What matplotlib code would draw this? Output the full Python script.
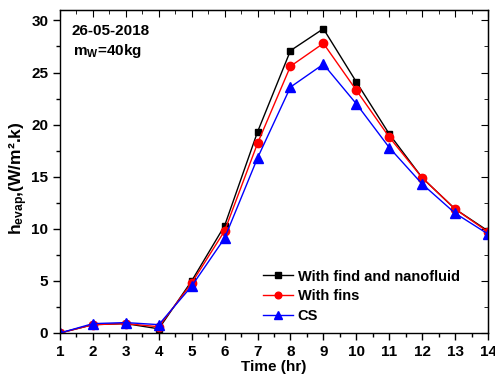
import matplotlib
matplotlib.use("Agg")
import matplotlib.pyplot as plt
from matplotlib.ticker import MultipleLocator

# data
hours = [1, 2, 3, 4, 5, 6, 7, 8, 9, 10, 11, 12, 13, 14]
fins_nano = [0.0, 0.8, 0.9, 0.4, 5.0, 10.3, 19.3, 27.1, 29.2, 24.1, 19.1, 14.9, 11.9, 9.8]
fins = [0.0, 0.8, 0.9, 0.6, 4.8, 9.8, 18.2, 25.6, 27.8, 23.3, 18.8, 14.9, 11.9, 9.7]
cs = [0.0, 0.9, 1.0, 0.8, 4.5, 9.1, 16.8, 23.6, 25.8, 22.0, 17.8, 14.3, 11.5, 9.5]

plt.rcParams["font.family"] = "Liberation Sans"
plt.rcParams["font.weight"] = "bold"
plt.rcParams["mathtext.fontset"] = "custom"
plt.rcParams["mathtext.rm"] = "Liberation Sans:bold"
plt.rcParams["mathtext.it"] = "Liberation Sans:bold"
plt.rcParams["mathtext.bf"] = "Liberation Sans:bold"

fig = plt.figure(figsize=(4.95, 3.76), dpi=100)
ax = fig.add_axes([60 / 495, 1 - 333 / 376, 428 / 495, 323 / 376])

ax.plot(hours, fins_nano, color="black", marker="s", markersize=5, linewidth=1,
        label="With find and nanofluid")
ax.plot(hours, fins, color="red", marker="o", markersize=6, linewidth=1,
        label="With fins")
ax.plot(hours, cs, color="blue", marker="^", markersize=6.5, linewidth=1,
        label="CS")

ax.set_xlim(1, 14)
ax.set_ylim(0, 31)
ax.xaxis.set_major_locator(MultipleLocator(1))
ax.xaxis.set_minor_locator(MultipleLocator(0.5))
ax.yaxis.set_major_locator(MultipleLocator(5))
ax.yaxis.set_minor_locator(MultipleLocator(2.5))

ax.tick_params(which="both", direction="out", labelsize=11, width=1)
ax.tick_params(which="major", length=5)
ax.tick_params(which="minor", length=3)
ax.tick_params(axis="x", pad=3.5)

# mirrored inward ticks on top and right
secx = ax.secondary_xaxis("top")
secx.xaxis.set_major_locator(MultipleLocator(1))
secx.xaxis.set_minor_locator(MultipleLocator(0.5))
secx.tick_params(which="both", direction="in", labeltop=False)
secx.tick_params(which="major", length=5)
secx.tick_params(which="minor", length=3)
secy = ax.secondary_yaxis("right")
secy.yaxis.set_major_locator(MultipleLocator(5))
secy.yaxis.set_minor_locator(MultipleLocator(2.5))
secy.tick_params(which="both", direction="in", labelright=False)
secy.tick_params(which="major", length=5)
secy.tick_params(which="minor", length=3)

for sp in ax.spines.values():
    sp.set_linewidth(1)

ax.set_xlabel("Time (hr)", fontsize=11, fontweight="bold", labelpad=1)
ax.set_ylabel(r"h$_{\mathregular{evap}}$,(W/m².k)", fontsize=12.5,
              fontweight="bold")
ax.yaxis.set_label_coords(-0.071, 0.48)

ax.text(0.028, 0.958, "26-05-2018", transform=ax.transAxes, fontsize=11,
        fontweight="bold", va="top")
ax.text(0.03, 0.86, r"m$_{\mathregular{W}}$=40kg", transform=ax.transAxes,
        fontsize=11, fontweight="bold", va="baseline")

ax.legend(loc="lower right", bbox_to_anchor=(0.954, 0.005), frameon=False,
          fontsize=10.5, handlelength=2.1, handletextpad=0.3, labelspacing=0.38,
          borderaxespad=0.2, markerscale=0.8)

fig.savefig("out.png", dpi=100)
